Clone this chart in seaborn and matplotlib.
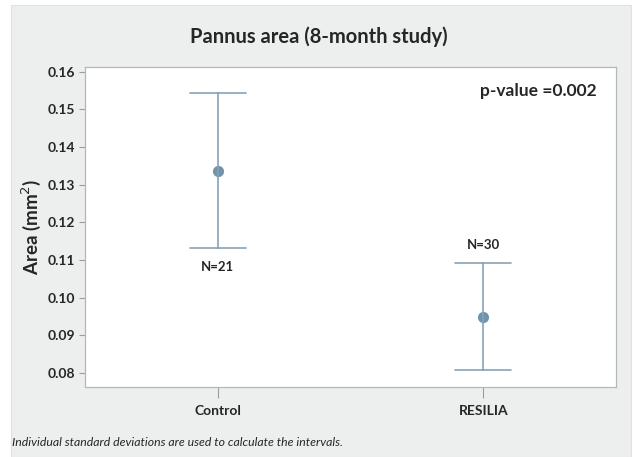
import numpy as np
import pandas as pd
import matplotlib
matplotlib.use("Agg")
import matplotlib.pyplot as plt
import seaborn as sns
from matplotlib.patches import Rectangle

# values
groups = ["Control", "RESILIA"]
means = [0.1337, 0.0949]
lower = [0.1132, 0.0808]
upper = [0.1542, 0.1092]
n_labels = ["N=21", "N=30"]
p_text = "p-value =0.002"

sns.set_theme(style="white")
plt.rcParams["font.family"] = ["Lato", "DejaVu Sans"]

# one row per interval end plus the mean, median of the three gives the mean
rows = []
for g, lo, m, hi in zip(groups, lower, means, upper):
    for v in (lo, m, hi):
        rows.append({"group": g, "area": v})
df = pd.DataFrame(rows)

line_col = "#86a3b8"
dot_col = "#7293aa"
panel_col = "#edeeee"

fig = plt.figure(figsize=(6.37, 4.57), dpi=100)
fig.patch.set_facecolor("white")
fig.patches.append(Rectangle((11 / 637, 0), 620 / 637, 452 / 457, transform=fig.transFigure,
                             facecolor=panel_col, edgecolor="#e0e2e2", lw=0.8, zorder=-10))

ax = fig.add_axes([85 / 637, 70 / 457, 531 / 637, 320 / 457])
ax.set_facecolor("white")

sns.pointplot(data=df, x="group", y="area", estimator=np.median,
              errorbar=lambda x: (x.min(), x.max()), capsize=0.21,
              color=line_col, linestyle="none", marker="o", markersize=6,
              err_kws={"linewidth": 1.2}, ax=ax)
for coll in ax.lines:
    if coll.get_marker() == "o":
        coll.set_markerfacecolor(dot_col)
        coll.set_markeredgecolor(dot_col)

ax.set_xlim(-0.5, 1.5)
ax.set_ylim(0.0763, 0.1612)
ax.set_yticks(np.arange(0.08, 0.1601, 0.01))
ax.yaxis.set_major_formatter(matplotlib.ticker.FormatStrFormatter("%.2f"))

for s in ax.spines.values():
    s.set_color("#b5b8b8")
    s.set_linewidth(0.9)
ax.tick_params(axis="y", length=4, width=0.8, color="#9a9d9d", labelsize=10, pad=3)
ax.tick_params(axis="x", length=8, width=0.8, color="#9a9d9d", labelsize=10, pad=5)
ax.tick_params(left=True, bottom=True)
for lab in ax.get_yticklabels() + ax.get_xticklabels():
    lab.set_fontweight("bold")

ax.set_xlabel("")
ax.set_ylabel("Area (mm$^2$)", fontsize=13.5, fontweight="bold", labelpad=3)

# sample size notes
ax.annotate(n_labels[0], (0, lower[0]), xytext=(0, -14), textcoords="offset points",
            ha="center", va="center", fontsize=9.5, fontweight="bold")
ax.annotate(n_labels[1], (1, upper[1]), xytext=(0, 13), textcoords="offset points",
            ha="center", va="center", fontsize=9.5, fontweight="bold")

ax.text(0.964, 0.925, p_text, transform=ax.transAxes, ha="right", va="center",
        fontsize=12.5, fontweight="bold")

fig.text(0.5, 1 - 37 / 457, "Pannus area (8-month study)", ha="center", va="center",
         fontsize=14.5, fontweight="bold")
fig.text(12 / 637, 1 - 443 / 457, "Individual standard deviations are used to calculate the intervals.",
         ha="left", va="center", fontsize=8.8, style="italic")

fig.savefig("out.png", dpi=100, facecolor=fig.get_facecolor())
